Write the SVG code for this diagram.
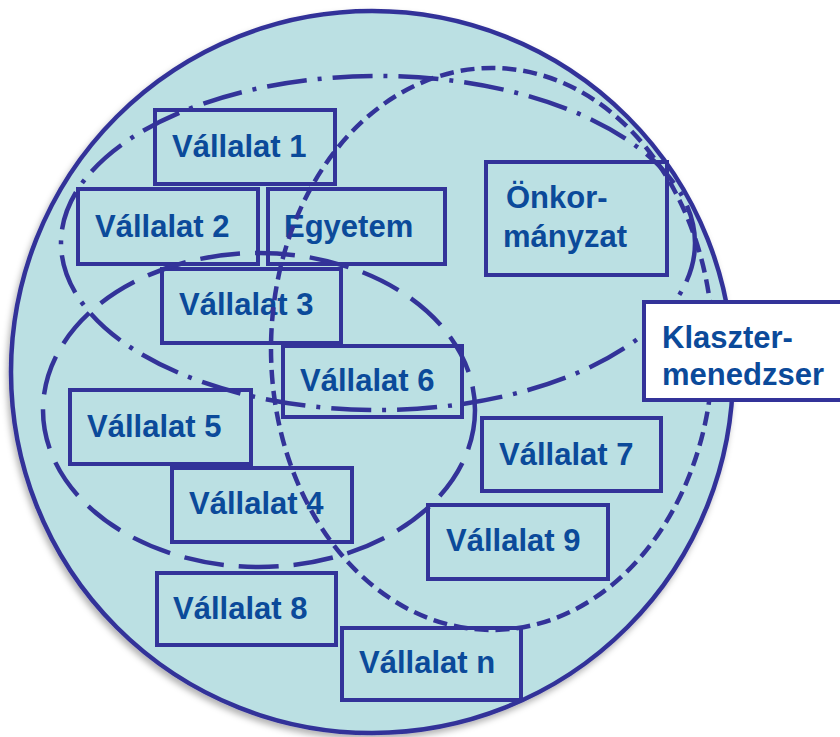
<svg xmlns="http://www.w3.org/2000/svg" width="840" height="737" viewBox="0 0 840 737">
<defs>
<filter id="sh" x="-10%" y="-10%" width="120%" height="120%">
<feDropShadow dx="-2" dy="4" stdDeviation="3" flood-color="#000" flood-opacity="0.3"/>
</filter>
</defs>
<style>
.box{fill:#BBE0E3;stroke:#333399;stroke-width:4}
.t{font-family:"Liberation Sans",Arial,sans-serif;font-weight:bold;font-size:31px;fill:#0B4A9A}
.e{fill:none;stroke:#333399;stroke-width:4.5}
</style>
<rect width="840" height="737" fill="#fff"/>
<g id="cluster">
<circle cx="372" cy="372" r="361" fill="#BBE0E3" stroke="#333399" stroke-width="4.5" filter="url(#sh)"/>
</g>
<g id="v1"><rect class="box" x="155" y="110" width="180" height="74"/><text class="t" x="172" y="157">Vállalat 1</text></g>
<g id="v2"><rect class="box" x="78" y="189" width="180" height="75"/><text class="t" x="95" y="237">Vállalat 2</text></g>
<g id="egyetem"><rect class="box" x="268" y="189" width="177" height="75"/><text class="t" x="284" y="237">Egyetem</text></g>
<g id="v3"><rect class="box" x="162" y="269" width="179" height="74"/><text class="t" x="179" y="315">Vállalat 3</text></g>
<g id="v6"><rect class="box" x="283" y="346" width="179" height="71"/><text class="t" x="300" y="391">Vállalat 6</text></g>
<g id="onkormanyzat"><rect class="box" x="486" y="162" width="181" height="113"/><text class="t" x="506" y="208">Önkor-</text><text class="t" x="503" y="247">mányzat</text></g>
<g id="v5"><rect class="box" x="70" y="390" width="181" height="74"/><text class="t" x="87" y="437">Vállalat 5</text></g>
<g id="v4"><rect class="box" x="172" y="468" width="180" height="74"/><text class="t" x="189" y="514">Vállalat 4</text></g>
<g id="v8"><rect class="box" x="157" y="573" width="179" height="72"/><text class="t" x="173" y="619">Vállalat 8</text></g>
<g id="vn"><rect class="box" x="342" y="628" width="179" height="72"/><text class="t" x="359" y="673">Vállalat n</text></g>
<g id="v7"><rect class="box" x="482" y="418" width="179" height="73"/><text class="t" x="499" y="465">Vállalat 7</text></g>
<g id="v9"><rect class="box" x="428" y="505" width="180" height="74"/><text class="t" x="446" y="551">Vállalat 9</text></g>
<g id="connectors">
<ellipse class="e" cx="378" cy="243" rx="317" ry="167" stroke-dasharray="40 11 4 11"/>
<ellipse class="e" cx="259" cy="410" rx="216" ry="157" stroke-dasharray="40 15"/>
<ellipse class="e" cx="492" cy="349" rx="221" ry="281" stroke-dasharray="14 7"/>
</g>
<g id="klasztermenedzser"><rect x="644" y="302" width="210" height="98" fill="#fff" stroke="#333399" stroke-width="4"/><text class="t" x="662" y="348">Klaszter-</text><text class="t" x="662" y="385">menedzser</text></g>
</svg>
